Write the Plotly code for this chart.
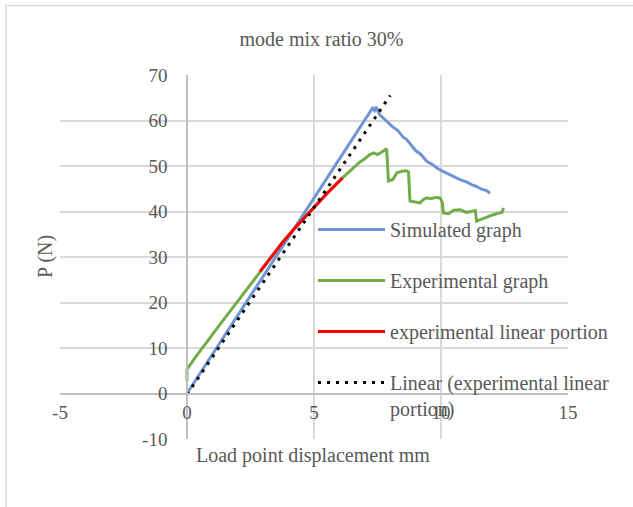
import plotly.graph_objects as go

# ---------------- data ----------------
sim_x = [0, 7.20, 7.30, 7.38, 7.45, 7.52, 7.60, 7.75, 7.90, 8.10, 8.30, 8.50, 8.65, 8.80,
         9.00, 9.20, 9.45, 9.65, 9.85, 10.08, 10.30, 10.55, 10.75, 11.00, 11.20, 11.40,
         11.60, 11.80, 11.93]
sim_y = [0, 61.6, 62.7, 62.2, 63.0, 62.0, 61.2, 60.4, 59.6, 58.6, 57.8, 56.4, 55.8, 54.7,
         53.4, 52.6, 51.0, 50.4, 49.5, 48.8, 48.2, 47.5, 47.0, 46.5, 45.9, 45.5,
         44.9, 44.6, 44.0]

exp_x = [0, 0, 0.3, 0.7, 1.3, 2.0, 2.87, 3.3, 3.79, 4.3, 4.84, 5.5, 6.12, 6.5, 6.81,
         7.0, 7.2, 7.35, 7.5, 7.7, 7.86, 7.93, 8.1, 8.26, 8.5, 8.65, 8.72, 8.78, 9.0,
         9.17, 9.3, 9.43, 9.6, 9.8, 9.96, 10.05, 10.09, 10.3, 10.5, 10.75, 11.0, 11.27,
         11.35, 11.4, 11.7, 12.06, 12.3, 12.4, 12.46]
exp_y = [2.7, 5.3, 7.7, 10.8, 15.2, 20.3, 26.8, 30.0, 33.4, 36.7, 40.0, 43.9, 47.4, 49.3,
         50.9, 51.6, 52.5, 52.9, 52.5, 53.2, 53.8, 46.7, 47.0, 48.5, 48.9, 48.9, 48.7,
         42.3, 42.0, 41.9, 42.6, 43.0, 42.8, 43.1, 43.0, 42.0, 39.7, 39.5, 40.3, 40.4,
         39.8, 40.1, 40.2, 37.9, 38.6, 39.3, 39.7, 39.8, 40.8]

lin_x = [2.87, 3.3, 3.79, 4.3, 4.84, 5.5, 6.12]
lin_y = [26.8, 30.0, 33.4, 36.7, 40.0, 43.9, 47.4]

trend_x = [0, 8.0]
trend_y = [-0.2, 65.5]

x_ticks = [-5, 0, 5, 10, 15]
x_ticktext = ["-5", "0", "5", "10", "15"]
y_ticks = [-10, 0, 10, 20, 30, 40, 50, 60, 70]
y_ticktext = ["-10", "0", "10", "20", "30", "40", "50", "60", "70"]

# ---------------- layout geometry (pixels) ----------------
W, H = 633, 507
PL, PR, PT, PB = 60, 568, 75, 439          # plot area edges
PW, PH = PR - PL, PB - PT


def px_x(px):
    return (px - PL) / PW


def px_y(py):
    return (PB - py) / PH


FONT = "Liberation Serif, Times New Roman, serif"
GREY = "#595959"

fig = go.Figure()
fig.add_trace(go.Scatter(x=sim_x, y=sim_y, mode="lines", name="Simulated graph",
                         legendgroup="a", line=dict(color="#6f95d4", width=3)))
fig.add_trace(go.Scatter(x=exp_x, y=exp_y, mode="lines", name="Experimental graph",
                         legendgroup="b", line=dict(color="#70ad47", width=3)))
fig.add_trace(go.Scatter(x=lin_x, y=lin_y, mode="lines", name="experimental linear portion",
                         legendgroup="c", line=dict(color="#ff0000", width=3)))
fig.add_trace(go.Scatter(x=trend_x, y=trend_y, mode="lines",
                         name="Linear (experimental linear<br>portion)",
                         legendgroup="d", line=dict(color="#000000", width=3, dash="3px,6px")))

fig.update_layout(
    width=W, height=H,
    margin=dict(l=PL, r=W - PR, t=PT, b=H - PB, autoexpand=False),
    paper_bgcolor="white", plot_bgcolor="white",
    font=dict(family=FONT, size=20, color=GREY),
    title=dict(text="mode mix ratio 30%", x=321.5 / W, xref="container", xanchor="center",
               y=1 - 38.5 / H, yref="container", yanchor="middle",
               font=dict(family=FONT, size=20, color=GREY)),
    xaxis=dict(range=[-5, 15], anchor="free", position=px_y(394),
               tickvals=x_ticks, ticktext=x_ticktext, showgrid=True,
               gridcolor="#d9d9d9", gridwidth=1.5, zeroline=False, showline=True,
               linecolor="#bfbfbf", linewidth=1.5, ticks="", ticklabelstandoff=1,
               automargin=False,
               tickfont=dict(family=FONT, size=19, color=GREY)),
    yaxis=dict(range=[-10, 70], anchor="free", position=px_x(187),
               tickvals=y_ticks, ticktext=y_ticktext, showgrid=True,
               gridcolor="#d9d9d9", gridwidth=1.5, zeroline=False, showline=True,
               linecolor="#bfbfbf", linewidth=1.5, ticks="", ticklabelstandoff=15,
               automargin=False,
               tickfont=dict(family=FONT, size=19, color=GREY)),
    legend=dict(x=313 / W, y=1 - 210 / H, xref="container", yref="container",
                xanchor="left", yanchor="top",
                bgcolor="rgba(0,0,0,0)", tracegroupgap=22, itemwidth=67, valign="top",
                font=dict(family=FONT, size=20, color=GREY)),
    showlegend=True,
    annotations=[
        dict(text="P (N)", x=px_x(45), y=px_y(257), xref="paper", yref="paper",
             textangle=-90, showarrow=False, xanchor="center", yanchor="middle",
             font=dict(family=FONT, size=20, color=GREY)),
        dict(text="Load point displacement mm", x=px_x(313), y=px_y(455),
             xref="paper", yref="paper", showarrow=False, xanchor="center",
             yanchor="middle", font=dict(family=FONT, size=20, color=GREY)),
    ],
    shapes=[
        dict(type="rect", xref="paper", yref="paper", x0=px_x(6), x1=px_x(W + 20),
             y0=px_y(H + 20), y1=px_y(5.5), line=dict(color="#d9d9d9", width=1.5),
             fillcolor="rgba(0,0,0,0)", layer="below"),
    ],
)

fig.write_html("out.html", config={"displayModeBar": False},
               post_script="document.body.style.margin='0';")
